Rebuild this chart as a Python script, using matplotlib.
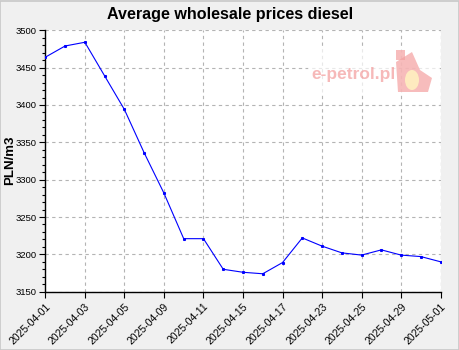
import matplotlib
matplotlib.use("Agg")
import matplotlib.pyplot as plt
from matplotlib.ticker import MultipleLocator, FixedLocator
from matplotlib.patches import Rectangle, Polygon, Ellipse

dates = ["2025-04-01", "2025-04-02", "2025-04-03", "2025-04-04", "2025-04-05",
         "2025-04-08", "2025-04-09", "2025-04-10", "2025-04-11", "2025-04-14",
         "2025-04-15", "2025-04-16", "2025-04-17", "2025-04-22", "2025-04-23",
         "2025-04-24", "2025-04-25", "2025-04-28", "2025-04-29", "2025-04-30",
         "2025-05-01"]
prices = [3464, 3479, 3484, 3439, 3394, 3336, 3282, 3221, 3221, 3180,
          3176, 3174, 3189, 3222, 3211, 3202, 3199, 3206, 3199, 3197, 3190]

title = "Average wholesale prices diesel"
ylabel = "PLN/m3"

plt.rcParams["font.family"] = ["Liberation Sans", "DejaVu Sans"]

fig = plt.figure(figsize=(4.6, 3.5), dpi=100, facecolor="#f0f0f0")
ax = fig.add_axes([0.0985, 0.1666, 0.8595, 0.7468])
ax.set_facecolor("white")

x = list(range(len(dates)))
ax.plot(x, prices, color="#0000ff", lw=0.8, marker="s", ms=1.2, mec="#0000ff", zorder=3)

ax.set_xlim(0, len(dates) - 1)
ax.set_ylim(3150, 3500)
tick_idx = x[::2]
ax.xaxis.set_major_locator(FixedLocator(tick_idx))
ax.set_xticklabels([dates[i] for i in tick_idx], rotation=45, ha="right",
                   rotation_mode="anchor", fontsize=7.5)
ax.yaxis.set_major_locator(MultipleLocator(50))
ax.yaxis.set_minor_locator(MultipleLocator(10))
ax.tick_params(axis="y", which="major", labelsize=6.8, length=4, width=0.8, pad=2)
ax.tick_params(axis="y", which="minor", length=2, width=0.8)
ax.tick_params(axis="x", which="major", length=4, width=0.8, pad=3)

for s in ["top", "right"]:
    ax.spines[s].set_visible(False)
for s in ["left", "bottom"]:
    ax.spines[s].set_linewidth(1.0)
    ax.spines[s].set_color("black")

ax.grid(True, which="major", color="#b4b4b4", linestyle=(0, (3, 3)), lw=0.8)
ax.set_axisbelow(True)
ax.axvline(len(dates) - 1, color="#b4b4b4", linestyle=(0, (3, 3)), lw=0.8, zorder=0)

fig.text(0.5, 0.958, title, ha="center", va="center", fontsize=11.6, fontweight="bold")
fig.text(0.021, 0.543, ylabel, ha="center", va="center", rotation=90,
         fontsize=9.5, fontweight="bold")

# watermark
fig.patches.append(Rectangle((308 / 460, 1 - 93 / 350), 132 / 460, 46 / 350,
                             transform=fig.transFigure, facecolor="white",
                             edgecolor="none", alpha=0.7, zorder=2))
fig.text(354 / 460, 1 - 75 / 350, "e-petrol.pl", ha="center", va="center",
         fontsize=12.5, fontweight="bold", color="#f08080", alpha=0.55, zorder=3)
fig.patches.append(Rectangle((396 / 460, 1 - 60 / 350), 9 / 460, 10 / 350,
                             transform=fig.transFigure, facecolor="#f4a0a0",
                             edgecolor="none", alpha=0.7, zorder=3))
fig.patches.append(Polygon([(398 / 460, 1 - 92 / 350), (396 / 460, 1 - 62 / 350),
                            (412 / 460, 1 - 52 / 350), (420 / 460, 1 - 70 / 350),
                            (432 / 460, 1 - 78 / 350), (428 / 460, 1 - 92 / 350)],
                           closed=True, transform=fig.transFigure,
                           facecolor="#f4a0a0", edgecolor="none", alpha=0.7, zorder=3))
fig.patches.append(Ellipse((412 / 460, 1 - 80 / 350), 14 / 460, 20 / 350,
                           transform=fig.transFigure, facecolor="#fff0c0",
                           edgecolor="none", alpha=0.9, zorder=3))

fig.patches.append(Rectangle((0.001, 0.001), 0.997, 0.996, transform=fig.transFigure,
                             facecolor="none", edgecolor="#c8c8c8", lw=1.2, zorder=5))

fig.savefig("out.png", dpi=100, facecolor=fig.get_facecolor())
